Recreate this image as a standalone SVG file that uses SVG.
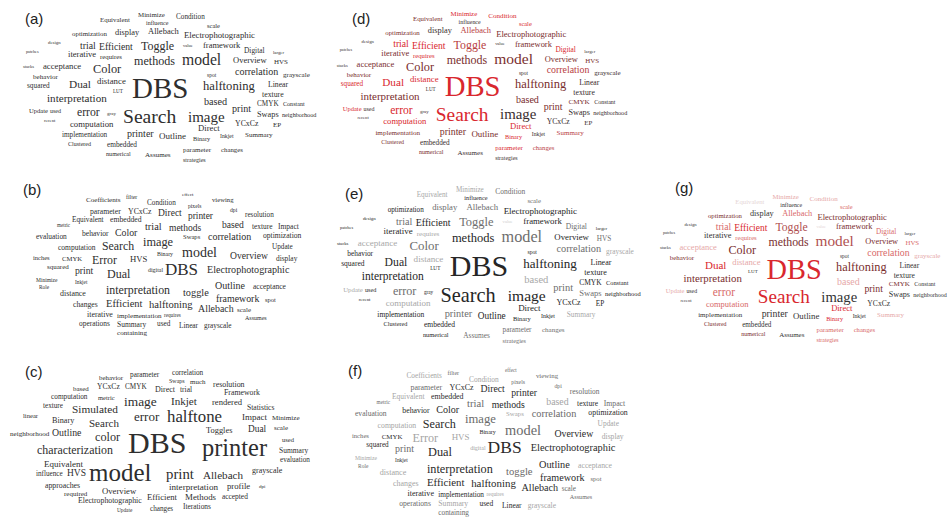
<svg xmlns="http://www.w3.org/2000/svg" width="951" height="517" viewBox="0 0 951 517">
<style>
.w{font-family:"Liberation Serif","Times New Roman",serif}
.lbl{font-family:"Liberation Sans",Arial,sans-serif;font-size:15px;fill:#222}
.k{fill:#2e2e2e}
.dr{fill:#d9272e}.dm{fill:#b8403f}.dd{fill:#7a2e2e}.dk{fill:#3a2e2e}
.e0{fill:#262626}.e1{fill:#6e6e6e}.e2{fill:#a8a8a8}.e3{fill:#d0d0d0}
.gr{fill:#d9272e}.gp{fill:#d86868}.gl{fill:#e6a8a8}.gv{fill:#e6d6d6}.gd{fill:#7a2e2e}.gk{fill:#333}.gm{fill:#b05050}
.f0{fill:#2a2a2a}.f1{fill:#6a6a6a}.f2{fill:#a5a5a5}
</style>
<rect width="951" height="517" fill="#fff"/>
<g id="labels">
<text class="lbl" x="25" y="24">(a)</text>
<text class="lbl" x="23" y="195">(b)</text>
<text class="lbl" x="25" y="377">(c)</text>
<text class="lbl" x="352" y="24">(d)</text>
<text class="lbl" x="345" y="198.5">(e)</text>
<text class="lbl" x="348" y="376">(f)</text>
<text class="lbl" x="675" y="193">(g)</text>
</g>
<g id="panel-a" class="w k">
<text x="138" y="17" font-size="6.9">Minimize</text>
<text x="176" y="19.3" font-size="7.2">Condition</text>
<text x="100" y="22" font-size="6.9">Equivalent</text>
<text x="146" y="25" font-size="6">influence</text>
<text x="207" y="27.5" font-size="6.5">scale</text>
<text x="72" y="36" font-size="6.9">optimization</text>
<text x="115" y="34.5" font-size="8.4">display</text>
<text x="148" y="34" font-size="8.5">Allebach</text>
<text x="184" y="38" font-size="8.7">Electrophotographic</text>
<text x="48" y="44" font-size="4.8">design</text>
<text x="80" y="48.5" font-size="9.8">trial</text>
<text x="99" y="50" font-size="9.7">Efficient</text>
<text x="141" y="50" font-size="12">Toggle</text>
<text x="183" y="46.5" font-size="4.5">value</text>
<text x="203" y="48" font-size="8.5">framework</text>
<text x="26" y="52.5" font-size="4.2">patches</text>
<text x="244" y="53" font-size="7.4">Digital</text>
<text x="273" y="54" font-size="4.8">larger</text>
<text x="68" y="57" font-size="8.6">iterative</text>
<text x="100" y="59" font-size="6.8">requires</text>
<text x="134" y="65" font-size="12.1">methods</text>
<text x="182" y="65" font-size="15.7">model</text>
<text x="233" y="63" font-size="8.5">Overview</text>
<text x="274" y="64" font-size="7">HVS</text>
<text x="23" y="68" font-size="4.5">stacks</text>
<text x="43" y="69" font-size="8.7">acceptance</text>
<text x="93" y="73" font-size="12.4">Color</text>
<text x="207" y="77" font-size="5.5">spot</text>
<text x="235" y="75" font-size="10">correlation</text>
<text x="283" y="77" font-size="7.1">grayscale</text>
<text x="33" y="79" font-size="7.1">behavior</text>
<text x="27" y="88" font-size="7.3">squared</text>
<text x="69" y="88" font-size="11.3">Dual</text>
<text x="97" y="84" font-size="8.8">distance</text>
<text x="132" y="98" font-size="29">DBS</text>
<text x="203" y="90" font-size="12.6">halftoning</text>
<text x="268" y="87" font-size="7.7">Linear</text>
<text x="113" y="92.5" font-size="5.1">LUT</text>
<text x="262" y="97" font-size="7.8">texture</text>
<text x="47" y="101.5" font-size="11.1">interpretation</text>
<text x="204" y="105" font-size="10.2">based</text>
<text x="257" y="106" font-size="7.2">CMYK</text>
<text x="283" y="106" font-size="6.1">Constant</text>
<text x="232" y="112" font-size="10.1">print</text>
<text x="29" y="113" font-size="6.6">Update</text>
<text x="50" y="113" font-size="6">used</text>
<text x="77" y="116" font-size="11.7">error</text>
<text x="107" y="115" font-size="5">gray</text>
<text x="123" y="123" font-size="19.6">Search</text>
<text x="188" y="121.5" font-size="15">image</text>
<text x="257" y="117" font-size="8.3">Swaps</text>
<text x="282" y="117" font-size="6.2">neighborhood</text>
<text x="44" y="121.5" font-size="4.6">recent</text>
<text x="70" y="126.5" font-size="8.7">computation</text>
<text x="235" y="126" font-size="7.8">YCxCz</text>
<text x="273" y="127" font-size="7">EP</text>
<text x="198" y="131" font-size="8.7">Direct</text>
<text x="62" y="137" font-size="7.2">implementation</text>
<text x="127" y="137" font-size="10">printer</text>
<text x="159" y="139" font-size="9">Outline</text>
<text x="193" y="141" font-size="6.3">Binary</text>
<text x="220" y="138" font-size="5.8">Inkjet</text>
<text x="245" y="137" font-size="7.1">Summary</text>
<text x="68" y="146" font-size="6">Clustered</text>
<text x="107" y="147" font-size="7.3">embedded</text>
<text x="106" y="156" font-size="6.2">numerical</text>
<text x="145" y="157" font-size="7.1">Assumes</text>
<text x="183" y="152" font-size="7">parameter</text>
<text x="221" y="152" font-size="6.8">changes</text>
<text x="183" y="162" font-size="6">strategies</text>
</g>
<g id="panel-d" class="w" transform="translate(314,-0.8) scale(0.99)">
<text class="dr" x="138" y="17" font-size="6.9">Minimize</text>
<text class="dr" x="176" y="19.3" font-size="7.2">Condition</text>
<text class="dd" x="100" y="22" font-size="6.9">Equivalent</text>
<text class="dk" x="146" y="25" font-size="6">influence</text>
<text class="dr" x="207" y="27.5" font-size="6.5">scale</text>
<text class="dd" x="72" y="36" font-size="6.9">optimization</text>
<text class="dk" x="115" y="34.5" font-size="8.4">display</text>
<text class="dm" x="148" y="34" font-size="8.5">Allebach</text>
<text class="dd" x="184" y="38" font-size="8.7">Electrophotographic</text>
<text class="dk" x="48" y="44" font-size="4.8">design</text>
<text class="dr" x="80" y="48.5" font-size="9.8">trial</text>
<text class="dr" x="99" y="50" font-size="9.7">Efficient</text>
<text class="dm" x="141" y="50" font-size="12">Toggle</text>
<text class="dk" x="183" y="46.5" font-size="4.5">value</text>
<text class="dd" x="203" y="48" font-size="8.5">framework</text>
<text class="dk" x="26" y="52.5" font-size="4.2">patches</text>
<text class="dr" x="244" y="53" font-size="7.4">Digital</text>
<text class="dk" x="273" y="54" font-size="4.8">larger</text>
<text class="dd" x="68" y="57" font-size="8.6">iterative</text>
<text class="dr" x="100" y="59" font-size="6.8">requires</text>
<text class="dd" x="134" y="65" font-size="12.1">methods</text>
<text class="dd" x="182" y="65" font-size="15.7">model</text>
<text class="dd" x="233" y="63" font-size="8.5">Overview</text>
<text class="dd" x="274" y="64" font-size="7">HVS</text>
<text class="dk" x="23" y="68" font-size="4.5">stacks</text>
<text class="dd" x="43" y="69" font-size="8.7">acceptance</text>
<text class="dd" x="93" y="73" font-size="12.4">Color</text>
<text class="dk" x="207" y="77" font-size="5.5">spot</text>
<text class="dm" x="235" y="75" font-size="10">correlation</text>
<text class="dk" x="283" y="77" font-size="7.1">grayscale</text>
<text class="dd" x="33" y="79" font-size="7.1">behavior</text>
<text class="dr" x="27" y="88" font-size="7.3">squared</text>
<text class="dr" x="69" y="88" font-size="11.3">Dual</text>
<text class="dr" x="97" y="84" font-size="8.8">distance</text>
<text class="dr" x="132" y="98" font-size="29">DBS</text>
<text class="dd" x="203" y="90" font-size="12.6">halftoning</text>
<text class="dk" x="268" y="87" font-size="7.7">Linear</text>
<text class="dk" x="113" y="92.5" font-size="5.1">LUT</text>
<text class="dk" x="262" y="97" font-size="7.8">texture</text>
<text class="dd" x="47" y="101.5" font-size="11.1">interpretation</text>
<text class="dd" x="204" y="105" font-size="10.2">based</text>
<text class="dd" x="257" y="106" font-size="7.2">CMYK</text>
<text class="dk" x="283" y="106" font-size="6.1">Constant</text>
<text class="dd" x="232" y="112" font-size="10.1">print</text>
<text class="dr" x="29" y="113" font-size="6.6">Update</text>
<text class="dk" x="50" y="113" font-size="6">used</text>
<text class="dr" x="77" y="116" font-size="11.7">error</text>
<text class="dk" x="107" y="115" font-size="5">gray</text>
<text class="dr" x="123" y="123" font-size="19.6">Search</text>
<text class="dk" x="188" y="121.5" font-size="15">image</text>
<text class="dk" x="257" y="117" font-size="8.3">Swaps</text>
<text class="dk" x="282" y="117" font-size="6.2">neighborhood</text>
<text class="dk" x="44" y="121.5" font-size="4.6">recent</text>
<text class="dr" x="70" y="126.5" font-size="8.7">computation</text>
<text class="dk" x="235" y="126" font-size="7.8">YCxCz</text>
<text class="dk" x="273" y="127" font-size="7">EP</text>
<text class="dr" x="198" y="131" font-size="8.7">Direct</text>
<text class="dd" x="62" y="137" font-size="7.2">implementation</text>
<text class="dd" x="127" y="137" font-size="10">printer</text>
<text class="dd" x="159" y="139" font-size="9">Outline</text>
<text class="dr" x="193" y="141" font-size="6.3">Binary</text>
<text class="dk" x="220" y="138" font-size="5.8">Inkjet</text>
<text class="dm" x="245" y="137" font-size="7.1">Summary</text>
<text class="dd" x="68" y="146" font-size="6">Clustered</text>
<text class="dk" x="107" y="147" font-size="7.3">embedded</text>
<text class="dd" x="106" y="156" font-size="6.2">numerical</text>
<text class="dk" x="145" y="157" font-size="7.1">Assumes</text>
<text class="dr" x="183" y="152" font-size="7">parameter</text>
<text class="dm" x="221" y="152" font-size="6.8">changes</text>
<text class="dk" x="183" y="162" font-size="6">strategies</text>
</g>
<g id="panel-e" class="w" transform="translate(313.2,174.3) scale(1.035,1.04)">
<text class="e2" x="138" y="17" font-size="6.9">Minimize</text>
<text class="e1" x="176" y="19.3" font-size="7.2">Condition</text>
<text class="e2" x="100" y="22" font-size="6.9">Equivalent</text>
<text class="e0" x="146" y="25" font-size="6">influence</text>
<text class="e1" x="207" y="27.5" font-size="6.5">scale</text>
<text class="e0" x="72" y="36" font-size="6.9">optimization</text>
<text class="e1" x="115" y="34.5" font-size="8.4">display</text>
<text class="e1" x="148" y="34" font-size="8.5">Allebach</text>
<text class="e0" x="184" y="38" font-size="8.7">Electrophotographic</text>
<text class="e0" x="48" y="44" font-size="4.8">design</text>
<text class="e1" x="80" y="48.5" font-size="9.8">trial</text>
<text class="e0" x="99" y="50" font-size="9.7">Efficient</text>
<text class="e1" x="141" y="50" font-size="12">Toggle</text>
<text class="e3" x="183" y="46.5" font-size="4.5">value</text>
<text class="e0" x="203" y="48" font-size="8.5">framework</text>
<text class="e0" x="26" y="52.5" font-size="4.2">patches</text>
<text class="e1" x="244" y="53" font-size="7.4">Digital</text>
<text class="e0" x="273" y="54" font-size="4.8">larger</text>
<text class="e0" x="68" y="57" font-size="8.6">iterative</text>
<text class="e2" x="100" y="59" font-size="6.8">requires</text>
<text class="e0" x="134" y="65" font-size="12.1">methods</text>
<text class="e1" x="182" y="65" font-size="15.7">model</text>
<text class="e0" x="233" y="63" font-size="8.5">Overview</text>
<text class="e1" x="274" y="64" font-size="7">HVS</text>
<text class="e0" x="23" y="68" font-size="4.5">stacks</text>
<text class="e2" x="43" y="69" font-size="8.7">acceptance</text>
<text class="e1" x="93" y="73" font-size="12.4">Color</text>
<text class="e0" x="207" y="77" font-size="5.5">spot</text>
<text class="e1" x="235" y="75" font-size="10">correlation</text>
<text class="e2" x="283" y="77" font-size="7.1">grayscale</text>
<text class="e0" x="33" y="79" font-size="7.1">behavior</text>
<text class="e0" x="27" y="88" font-size="7.3">squared</text>
<text class="e0" x="69" y="88" font-size="11.3">Dual</text>
<text class="e2" x="97" y="84" font-size="8.8">distance</text>
<text class="e0" x="132" y="98" font-size="29">DBS</text>
<text class="e0" x="203" y="90" font-size="12.6">halftoning</text>
<text class="e0" x="268" y="87" font-size="7.7">Linear</text>
<text class="e0" x="113" y="92.5" font-size="5.1">LUT</text>
<text class="e0" x="262" y="97" font-size="7.8">texture</text>
<text class="e0" x="47" y="101.5" font-size="11.1">interpretation</text>
<text class="e2" x="204" y="105" font-size="10.2">based</text>
<text class="e0" x="257" y="106" font-size="7.2">CMYK</text>
<text class="e0" x="283" y="106" font-size="6.1">Constant</text>
<text class="e1" x="232" y="112" font-size="10.1">print</text>
<text class="e2" x="29" y="113" font-size="6.6">Update</text>
<text class="e0" x="50" y="113" font-size="6">used</text>
<text class="e1" x="77" y="116" font-size="11.7">error</text>
<text class="e0" x="107" y="115" font-size="5">gray</text>
<text class="e0" x="123" y="123" font-size="19.6">Search</text>
<text class="e0" x="188" y="121.5" font-size="15">image</text>
<text class="e1" x="257" y="117" font-size="8.3">Swaps</text>
<text class="e0" x="282" y="117" font-size="6.2">neighborhood</text>
<text class="e0" x="44" y="121.5" font-size="4.6">recent</text>
<text class="e2" x="70" y="126.5" font-size="8.7">computation</text>
<text class="e0" x="235" y="126" font-size="7.8">YCxCz</text>
<text class="e0" x="273" y="127" font-size="7">EP</text>
<text class="e0" x="198" y="131" font-size="8.7">Direct</text>
<text class="e0" x="62" y="137" font-size="7.2">implementation</text>
<text class="e1" x="127" y="137" font-size="10">printer</text>
<text class="e0" x="159" y="139" font-size="9">Outline</text>
<text class="e0" x="193" y="141" font-size="6.3">Binary</text>
<text class="e0" x="220" y="138" font-size="5.8">Inkjet</text>
<text class="e2" x="245" y="137" font-size="7.1">Summary</text>
<text class="e0" x="68" y="146" font-size="6">Clustered</text>
<text class="e0" x="107" y="147" font-size="7.3">embedded</text>
<text class="e0" x="106" y="156" font-size="6.2">numerical</text>
<text class="e1" x="145" y="157" font-size="7.1">Assumes</text>
<text class="e1" x="183" y="152" font-size="7">parameter</text>
<text class="e1" x="221" y="152" font-size="6.8">changes</text>
<text class="e1" x="183" y="162" font-size="6">strategies</text>
</g>
<g id="panel-g" class="w" transform="translate(637.5,182.3) scale(0.978,0.983)">
<text class="gl" x="138" y="17" font-size="6.9">Minimize</text>
<text class="gl" x="176" y="19.3" font-size="7.2">Condition</text>
<text class="gv" x="100" y="22" font-size="6.9">Equivalent</text>
<text class="gk" x="146" y="25" font-size="6">influence</text>
<text class="gp" x="207" y="27.5" font-size="6.5">scale</text>
<text class="gd" x="72" y="36" font-size="6.9">optimization</text>
<text class="gk" x="115" y="34.5" font-size="8.4">display</text>
<text class="gp" x="148" y="34" font-size="8.5">Allebach</text>
<text class="gd" x="184" y="38" font-size="8.7">Electrophotographic</text>
<text class="gk" x="48" y="44" font-size="4.8">design</text>
<text class="gp" x="80" y="48.5" font-size="9.8">trial</text>
<text class="gr" x="99" y="50" font-size="9.7">Efficient</text>
<text class="gm" x="141" y="50" font-size="12">Toggle</text>
<text class="gv" x="183" y="46.5" font-size="4.5">value</text>
<text class="gd" x="203" y="48" font-size="8.5">framework</text>
<text class="gk" x="26" y="52.5" font-size="4.2">patches</text>
<text class="gp" x="244" y="53" font-size="7.4">Digital</text>
<text class="gk" x="273" y="54" font-size="4.8">larger</text>
<text class="gk" x="68" y="57" font-size="8.6">iterative</text>
<text class="gp" x="100" y="59" font-size="6.8">requires</text>
<text class="gd" x="134" y="65" font-size="12.1">methods</text>
<text class="gm" x="182" y="65" font-size="15.7">model</text>
<text class="gd" x="233" y="63" font-size="8.5">Overview</text>
<text class="gp" x="274" y="64" font-size="7">HVS</text>
<text class="gk" x="23" y="68" font-size="4.5">stacks</text>
<text class="gl" x="43" y="69" font-size="8.7">acceptance</text>
<text class="gd" x="93" y="73" font-size="12.4">Color</text>
<text class="gk" x="207" y="77" font-size="5.5">spot</text>
<text class="gp" x="235" y="75" font-size="10">correlation</text>
<text class="gl" x="283" y="77" font-size="7.1">grayscale</text>
<text class="gd" x="33" y="79" font-size="7.1">behavior</text>
<text class="gr" x="69" y="88" font-size="11.3">Dual</text>
<text class="gl" x="97" y="84" font-size="8.8">distance</text>
<text class="gr" x="132" y="98" font-size="29">DBS</text>
<text class="gd" x="203" y="90" font-size="12.6">halftoning</text>
<text class="gk" x="268" y="87" font-size="7.7">Linear</text>
<text class="gk" x="113" y="92.5" font-size="5.1">LUT</text>
<text class="gk" x="262" y="97" font-size="7.8">texture</text>
<text class="gd" x="47" y="101.5" font-size="11.1">interpretation</text>
<text class="gl" x="204" y="105" font-size="10.2">based</text>
<text class="gd" x="257" y="106" font-size="7.2">CMYK</text>
<text class="gk" x="283" y="106" font-size="6.1">Constant</text>
<text class="gd" x="232" y="112" font-size="10.1">print</text>
<text class="gl" x="29" y="113" font-size="6.6">Update</text>
<text class="gk" x="50" y="113" font-size="6">used</text>
<text class="gp" x="77" y="116" font-size="11.7">error</text>
<text class="gr" x="123" y="123" font-size="19.6">Search</text>
<text class="gk" x="188" y="121.5" font-size="15">image</text>
<text class="gk" x="257" y="117" font-size="8.3">Swaps</text>
<text class="gk" x="282" y="117" font-size="6.2">neighborhood</text>
<text class="gk" x="44" y="121.5" font-size="4.6">recent</text>
<text class="gp" x="70" y="126.5" font-size="8.7">computation</text>
<text class="gk" x="235" y="126" font-size="7.8">YCxCz</text>
<text class="gr" x="198" y="131" font-size="8.7">Direct</text>
<text class="gk" x="62" y="137" font-size="7.2">implementation</text>
<text class="gk" x="127" y="137" font-size="10">printer</text>
<text class="gk" x="159" y="139" font-size="9">Outline</text>
<text class="gr" x="193" y="141" font-size="6.3">Binary</text>
<text class="gk" x="220" y="138" font-size="5.8">Inkjet</text>
<text class="gl" x="245" y="137" font-size="7.1">Summary</text>
<text class="gd" x="68" y="146" font-size="6">Clustered</text>
<text class="gk" x="107" y="147" font-size="7.3">embedded</text>
<text class="gd" x="106" y="156" font-size="6.2">numerical</text>
<text class="gk" x="145" y="157" font-size="7.1">Assumes</text>
<text class="gp" x="183" y="152" font-size="7">parameter</text>
<text class="gp" x="221" y="152" font-size="6.8">changes</text>
<text class="gp" x="183" y="162" font-size="6">strategies</text>
</g>
<g id="panel-b" class="w k">
<text x="182" y="195.7" font-size="5">effect</text>
<text x="86" y="202" font-size="7.1">Coefficients</text>
<text x="126" y="199" font-size="5.8">filter</text>
<text x="212" y="202" font-size="6.7">viewing</text>
<text x="147" y="205.3" font-size="7.2">Condition</text>
<text x="188" y="208" font-size="5.6">pixels</text>
<text x="230" y="212" font-size="5.7">dpi</text>
<text x="90" y="214" font-size="7.7">parameter</text>
<text x="128" y="214" font-size="7.8">YCxCz</text>
<text x="158" y="215.6" font-size="9.5">Direct</text>
<text x="188" y="219" font-size="9.4">printer</text>
<text x="245" y="217" font-size="7.2">resolution</text>
<text x="72" y="222" font-size="7.3">Equivalent</text>
<text x="110" y="222" font-size="7.7">embedded</text>
<text x="222" y="228" font-size="9.6">based</text>
<text x="252" y="229" font-size="7.4">texture</text>
<text x="278" y="229" font-size="7.5">Impact</text>
<text x="57" y="227" font-size="5.1">metric</text>
<text x="145" y="230" font-size="10.3">trial</text>
<text x="169" y="231" font-size="9.5">methods</text>
<text x="82" y="236" font-size="7.6">behavior</text>
<text x="115" y="236" font-size="9.8">Color</text>
<text x="36" y="239" font-size="7.4">evaluation</text>
<text x="183" y="239" font-size="6.6">Swaps</text>
<text x="208" y="240" font-size="10">correlation</text>
<text x="263" y="238" font-size="7.6">optimization</text>
<text x="143" y="246" font-size="12.3">image</text>
<text x="58" y="250" font-size="7.5">computation</text>
<text x="102" y="250" font-size="11.8">Search</text>
<text x="272" y="249" font-size="7.2">Update</text>
<text x="157" y="256" font-size="5.9">Binary</text>
<text x="182" y="257" font-size="14">model</text>
<text x="33" y="260" font-size="6.5">inches</text>
<text x="62" y="261" font-size="6.7">CMYK</text>
<text x="92" y="264" font-size="11.8">Error</text>
<text x="130" y="262" font-size="8.7">HVS</text>
<text x="230" y="259" font-size="9.6">Overview</text>
<text x="276" y="261" font-size="7.4">display</text>
<text x="47" y="269" font-size="7">squared</text>
<text x="75" y="274" font-size="9.7">print</text>
<text x="107" y="278" font-size="12">Dual</text>
<text x="148" y="272" font-size="5.9">digital</text>
<text x="165" y="275" font-size="17">DBS</text>
<text x="207" y="273" font-size="10.1">Electrophotographic</text>
<text x="36" y="282" font-size="5.5">Minimize</text>
<text x="75" y="284" font-size="5.3">Inkjet</text>
<text x="39" y="289" font-size="5.3">Role</text>
<text x="60" y="296" font-size="7.9">distance</text>
<text x="106" y="294" font-size="11.9">interpretation</text>
<text x="183" y="296" font-size="10.3">toggle</text>
<text x="215" y="289" font-size="10">Outline</text>
<text x="253" y="289" font-size="7.5">acceptance</text>
<text x="216" y="302" font-size="9.9">framework</text>
<text x="265" y="302" font-size="6.5">spot</text>
<text x="73" y="307" font-size="7.7">changes</text>
<text x="106" y="307" font-size="10.5">Efficient</text>
<text x="149" y="308" font-size="10.6">halftoning</text>
<text x="198" y="312" font-size="9.9">Allebach</text>
<text x="237" y="312" font-size="7">scale</text>
<text x="87" y="317" font-size="7.9">iterative</text>
<text x="117" y="318" font-size="7.1">implementation</text>
<text x="164" y="317" font-size="5.2">requires</text>
<text x="245" y="320" font-size="6">Assumes</text>
<text x="79" y="326" font-size="7.4">operations</text>
<text x="117" y="326.5" font-size="7.5">Summary</text>
<text x="157" y="326" font-size="7.3">used</text>
<text x="179" y="328" font-size="7.3">Linear</text>
<text x="204" y="328" font-size="7.3">grayscale</text>
<text x="117" y="335" font-size="7.1">containing</text>
</g>
<g id="panel-f" class="w" transform="translate(318,170.5) scale(1.028)">
<text class="f1" x="182" y="195.7" font-size="5">effect</text>
<text class="f2" x="86" y="202" font-size="7.1">Coefficients</text>
<text class="f1" x="126" y="199" font-size="5.8">filter</text>
<text class="f1" x="212" y="202" font-size="6.7">viewing</text>
<text class="f2" x="147" y="205.3" font-size="7.2">Condition</text>
<text class="f1" x="188" y="208" font-size="5.6">pixels</text>
<text class="f1" x="230" y="212" font-size="5.7">dpi</text>
<text class="f1" x="90" y="214" font-size="7.7">parameter</text>
<text class="f0" x="128" y="214" font-size="7.8">YCxCz</text>
<text class="f0" x="158" y="215.6" font-size="9.5">Direct</text>
<text class="f0" x="188" y="219" font-size="9.4">printer</text>
<text class="f1" x="245" y="217" font-size="7.2">resolution</text>
<text class="f2" x="72" y="222" font-size="7.3">Equivalent</text>
<text class="f0" x="110" y="222" font-size="7.7">embedded</text>
<text class="f2" x="222" y="228" font-size="9.6">based</text>
<text class="f0" x="252" y="229" font-size="7.4">texture</text>
<text class="f1" x="278" y="229" font-size="7.5">Impact</text>
<text class="f1" x="57" y="227" font-size="5.1">metric</text>
<text class="f1" x="145" y="230" font-size="10.3">trial</text>
<text class="f0" x="169" y="231" font-size="9.5">methods</text>
<text class="f0" x="82" y="236" font-size="7.6">behavior</text>
<text class="f0" x="115" y="236" font-size="9.8">Color</text>
<text class="f1" x="36" y="239" font-size="7.4">evaluation</text>
<text class="f2" x="183" y="239" font-size="6.6">Swaps</text>
<text class="f1" x="208" y="240" font-size="10">correlation</text>
<text class="f0" x="263" y="238" font-size="7.6">optimization</text>
<text class="f1" x="143" y="246" font-size="12.3">image</text>
<text class="f2" x="58" y="250" font-size="7.5">computation</text>
<text class="f0" x="102" y="250" font-size="11.8">Search</text>
<text class="f2" x="272" y="249" font-size="7.2">Update</text>
<text class="f0" x="157" y="256" font-size="5.9">Binary</text>
<text class="f1" x="182" y="257" font-size="14">model</text>
<text class="f1" x="33" y="260" font-size="6.5">inches</text>
<text class="f0" x="62" y="261" font-size="6.7">CMYK</text>
<text class="f2" x="92" y="264" font-size="11.8">Error</text>
<text class="f2" x="130" y="262" font-size="8.7">HVS</text>
<text class="f0" x="230" y="259" font-size="9.6">Overview</text>
<text class="f2" x="276" y="261" font-size="7.4">display</text>
<text class="f0" x="47" y="269" font-size="7">squared</text>
<text class="f1" x="75" y="274" font-size="9.7">print</text>
<text class="f0" x="107" y="278" font-size="12">Dual</text>
<text class="f2" x="148" y="272" font-size="5.9">digital</text>
<text class="f0" x="165" y="275" font-size="17">DBS</text>
<text class="f0" x="207" y="273" font-size="10.1">Electrophotographic</text>
<text class="f2" x="36" y="282" font-size="5.5">Minimize</text>
<text class="f0" x="75" y="284" font-size="5.3">Inkjet</text>
<text class="f1" x="39" y="289" font-size="5.3">Role</text>
<text class="f2" x="60" y="296" font-size="7.9">distance</text>
<text class="f0" x="106" y="294" font-size="11.9">interpretation</text>
<text class="f1" x="183" y="296" font-size="10.3">toggle</text>
<text class="f0" x="215" y="289" font-size="10">Outline</text>
<text class="f2" x="253" y="289" font-size="7.5">acceptance</text>
<text class="f0" x="216" y="302" font-size="9.9">framework</text>
<text class="f1" x="265" y="302" font-size="6.5">spot</text>
<text class="f2" x="73" y="307" font-size="7.7">changes</text>
<text class="f0" x="106" y="307" font-size="10.5">Efficient</text>
<text class="f0" x="149" y="308" font-size="10.6">halftoning</text>
<text class="f0" x="198" y="312" font-size="9.9">Allebach</text>
<text class="f1" x="237" y="312" font-size="7">scale</text>
<text class="f0" x="87" y="317" font-size="7.9">iterative</text>
<text class="f0" x="117" y="318" font-size="7.1">implementation</text>
<text class="f2" x="164" y="317" font-size="5.2">requires</text>
<text class="f1" x="245" y="320" font-size="6">Assumes</text>
<text class="f1" x="79" y="326" font-size="7.4">operations</text>
<text class="f2" x="117" y="326.5" font-size="7.5">Summary</text>
<text class="f0" x="157" y="326" font-size="7.3">used</text>
<text class="f0" x="179" y="328" font-size="7.3">Linear</text>
<text class="f2" x="204" y="328" font-size="7.3">grayscale</text>
<text class="f1" x="117" y="335" font-size="7.1">containing</text>
</g>
<g id="panel-c" class="w k">
<text x="172" y="375" font-size="7.2">correlation</text>
<text x="130" y="377" font-size="7.3">parameter</text>
<text x="99" y="380" font-size="6.9">behavior</text>
<text x="169" y="383" font-size="6">Swaps</text>
<text x="190" y="384" font-size="7">much</text>
<text x="213" y="387" font-size="7.9">resolution</text>
<text x="73" y="391" font-size="6.9">based</text>
<text x="97" y="389" font-size="7.6">YCxCz</text>
<text x="125" y="389" font-size="7.2">CMYK</text>
<text x="155" y="392" font-size="8">Direct</text>
<text x="180" y="392" font-size="7.5">trial</text>
<text x="224" y="395" font-size="7.8">Framework</text>
<text x="51" y="399" font-size="7.3">computation</text>
<text x="98" y="400" font-size="6.5">metric</text>
<text x="124" y="406" font-size="13.4">image</text>
<text x="171" y="405" font-size="11.1">Inkjet</text>
<text x="212" y="405" font-size="8.6">rendered</text>
<text x="43" y="408" font-size="7.2">texture</text>
<text x="72" y="413" font-size="11.3">Simulated</text>
<text x="247" y="410" font-size="7.6">Statistics</text>
<text x="23" y="418" font-size="6.6">linear</text>
<text x="134" y="421" font-size="13">error</text>
<text x="167" y="422" font-size="16.8">halftone</text>
<text x="242" y="420" font-size="9">Impact</text>
<text x="272" y="420" font-size="7.1">Minimize</text>
<text x="52" y="423" font-size="8.2">Binary</text>
<text x="89" y="427" font-size="11">Search</text>
<text x="206" y="433" font-size="8.4">Toggles</text>
<text x="248" y="432" font-size="9.4">Dual</text>
<text x="274" y="430" font-size="7">scale</text>
<text x="10" y="436" font-size="7.1">neighborhood</text>
<text x="52" y="436" font-size="9.8">Outline</text>
<text x="95" y="441" font-size="12.2">color</text>
<text x="128" y="453" font-size="30">DBS</text>
<text x="202" y="456" font-size="24.4">printer</text>
<text x="282" y="442" font-size="6.5">used</text>
<text x="37" y="454" font-size="11.9">characterization</text>
<text x="279" y="453" font-size="7.5">Summary</text>
<text x="280" y="462" font-size="7.2">evaluation</text>
<text x="44" y="466.5" font-size="9">Equivalent</text>
<text x="36" y="475.5" font-size="7.2">influence</text>
<text x="67" y="476" font-size="9.5">HVS</text>
<text x="89" y="481" font-size="25">model</text>
<text x="166" y="479" font-size="14.8">print</text>
<text x="203" y="479" font-size="11.1">Allebach</text>
<text x="252" y="473" font-size="8">grayscale</text>
<text x="45" y="487.5" font-size="7.8">approaches</text>
<text x="169" y="490" font-size="9.1">interpretation</text>
<text x="227" y="489" font-size="8.7">profile</text>
<text x="259" y="488" font-size="5">dpi</text>
<text x="64" y="496" font-size="7">required</text>
<text x="102" y="494" font-size="8.7">Overview</text>
<text x="78" y="503" font-size="7.8">Electrophotographic</text>
<text x="147" y="500" font-size="8.6">Efficient</text>
<text x="185" y="500" font-size="8.9">Methods</text>
<text x="222" y="499" font-size="7.4">accepted</text>
<text x="117" y="512" font-size="5.3">Update</text>
<text x="150" y="511" font-size="7.2">changes</text>
<text x="183" y="509" font-size="7.4">Iterations</text>
</g>
</svg>
